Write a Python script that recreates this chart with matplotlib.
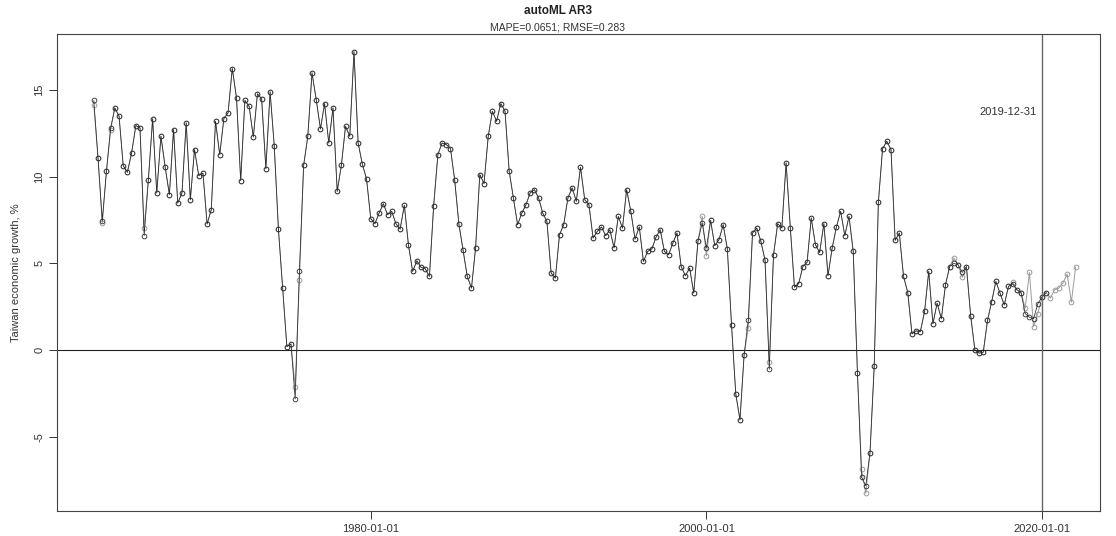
import numpy as np
import pandas as pd
import matplotlib
matplotlib.use("Agg")
import matplotlib.pyplot as plt
import matplotlib.dates as mdates

plt.rcParams['font.family'] = ['Liberation Sans', 'DejaVu Sans']

# quarterly Taiwan GDP growth, %, 1963Q2 .. 2020Q1
actual = [
    14.39, 11.08, 7.45, 10.3, 12.8, 13.96, 13.48, 10.63, 10.25, 11.37,
    12.94, 12.81, 6.6, 9.83, 13.33, 9.06, 12.33, 10.56, 8.96, 12.71,
    8.48, 9.06, 13.1, 8.67, 11.56, 10.06, 10.2, 7.27, 8.1, 13.19,
    11.27, 13.35, 13.67, 16.23, 14.54, 9.77, 14.39, 14.06, 12.29, 14.77,
    14.48, 10.46, 14.89, 11.79, 6.98, 3.6, 0.2, 0.36, -2.81, 4.54,
    10.65, 12.33, 15.98, 14.44, 12.75, 14.21, 11.94, 13.96, 9.15, 10.65,
    12.9, 12.33, 17.2, 11.94, 10.73, 9.87, 7.58, 7.29, 7.9, 8.44,
    7.81, 8.0, 7.29, 6.98, 8.35, 6.04, 4.54, 5.15, 4.77, 4.69,
    4.25, 8.33, 11.27, 11.94, 11.85, 11.62, 9.79, 7.29, 5.79, 4.25,
    3.58, 5.89, 10.12, 9.6, 12.33, 13.77, 13.19, 14.21, 13.77, 10.31,
    8.77, 7.23, 7.9, 8.38, 9.06, 9.25, 8.77, 7.9, 7.42, 4.44,
    4.15, 6.65, 7.23, 8.77, 9.35, 8.58, 10.54, 8.67, 8.38, 6.46,
    6.84, 7.1, 6.6, 6.94, 5.89, 7.71, 7.04, 9.25, 8.0, 6.4,
    7.1, 5.11, 5.69, 5.83, 6.52, 6.94, 5.69, 5.5, 6.17, 6.75,
    4.82, 4.29, 4.73, 3.29, 6.27, 7.33, 5.89, 7.48, 6.02, 6.36,
    7.23, 5.83, 1.46, -2.52, -4.02, -0.27, 1.75, 6.75, 7.04, 6.27,
    5.17, -1.1, 5.5, 7.29, 7.04, 10.79, 7.04, 3.63, 3.83, 4.82,
    5.06, 7.62, 6.08, 5.63, 7.29, 4.29, 5.89, 7.1, 8.0, 6.6,
    7.71, 5.69, -1.33, -7.33, -7.81, -5.91, -0.9, 8.52, 11.6, 12.04,
    11.56, 6.33, 6.75, 4.25, 3.32, 0.94, 1.11, 1.07, 2.23, 4.54,
    1.52, 2.71, 1.81, 3.77, 4.82, 5.0, 4.92, 4.48, 4.82, 1.98,
    0.0, -0.17, -0.12, 1.71, 2.8, 3.96, 3.29, 2.61, 3.67, 3.83,
    3.48, 3.32, 2.1, 1.9, 1.81, 2.67, 3.06, 3.32,
]

# AR3 in-sample fit, then 7 quarters ahead
fitted = [
    14.1, 11.08, 7.33, 10.3, 12.7, 13.96, 13.48, 10.63, 10.25, 11.37,
    12.94, 12.81, 7.04, 9.83, 13.33, 9.06, 12.33, 10.56, 8.96, 12.71,
    8.48, 9.06, 13.1, 8.67, 11.56, 10.06, 10.2, 7.27, 8.1, 13.19,
    11.27, 13.35, 13.67, 16.23, 14.54, 9.77, 14.39, 14.06, 12.29, 14.77,
    14.48, 10.46, 14.89, 11.79, 6.98, 3.6, 0.2, 0.36, -2.1, 4.06,
    10.65, 12.33, 15.98, 14.44, 12.75, 14.21, 11.94, 13.96, 9.15, 10.65,
    12.9, 12.33, 17.2, 11.94, 10.73, 9.87, 7.58, 7.29, 7.9, 8.44,
    7.81, 8.0, 7.29, 6.98, 8.35, 6.04, 4.54, 5.15, 4.77, 4.69,
    4.25, 8.33, 11.27, 11.94, 11.85, 11.62, 9.79, 7.29, 5.79, 4.25,
    3.58, 5.89, 10.12, 9.6, 12.33, 13.77, 13.19, 14.21, 13.77, 10.31,
    8.77, 7.23, 7.9, 8.38, 9.06, 9.25, 8.77, 7.9, 7.42, 4.44,
    4.15, 6.65, 7.23, 8.77, 9.35, 8.58, 10.54, 8.67, 8.38, 6.46,
    6.84, 7.1, 6.6, 6.94, 5.89, 7.71, 7.04, 9.25, 8.0, 6.4,
    7.1, 5.11, 5.69, 5.83, 6.52, 6.94, 5.69, 5.5, 6.17, 6.75,
    4.82, 4.29, 4.73, 3.29, 6.27, 7.71, 5.44, 7.48, 6.02, 6.36,
    7.23, 5.83, 1.46, -2.52, -4.02, -0.27, 1.3, 6.75, 7.04, 6.27,
    5.17, -0.66, 5.5, 7.29, 7.04, 10.79, 7.04, 3.63, 3.83, 4.82,
    5.06, 7.62, 6.08, 5.63, 7.29, 4.29, 5.89, 7.1, 8.0, 6.6,
    7.71, 5.69, -1.33, -6.87, -8.25, -5.91, -0.9, 8.52, 11.6, 12.04,
    11.56, 6.33, 6.75, 4.25, 3.32, 0.94, 1.11, 1.07, 2.23, 4.54,
    1.52, 2.71, 1.81, 3.77, 4.82, 5.31, 4.92, 4.19, 4.82, 1.98,
    0.0, -0.17, -0.12, 1.71, 2.8, 3.96, 3.29, 2.61, 3.67, 3.9,
    3.48, 3.32, 2.42, 4.48, 1.36, 2.11, 3.06, 3.32,
    3.0, 3.48, 3.58, 3.87, 4.39, 2.77, 4.79,
]

start = "1963-06-30"
cutoff = pd.Timestamp("2019-12-31")
dates_act = pd.date_range(start, periods=len(actual), freq="QE")
dates_fit = pd.date_range(start, periods=len(fitted), freq="QE")

fig = plt.figure(figsize=(11.16, 5.36), dpi=100)
ax = fig.add_axes([57 / 1116, 25 / 536, 1043 / 1116, 477 / 536])

# fitted underneath, actual on top
ax.plot(dates_fit, fitted, color="#9a9a9a", lw=0.7, marker="o", ms=3.4,
        mfc="none", mec="#9a9a9a", mew=0.7)
ax.plot(dates_act, actual, color="#2a2a2a", lw=0.55, marker="o", ms=3.4,
        mfc="none", mec="#2a2a2a", mew=0.6)

ax.axhline(0, color="#222222", lw=0.8)
ax.axvline(cutoff, color="#666666", lw=1.0)
ax.text(pd.Timestamp("2017-12-20"), 13.7, "2019-12-31", ha="center",
        va="center", fontsize=8, color="#333333")

ax.set_xlim(pd.Timestamp("1961-04-20"), pd.Timestamp("2023-06-15"))
ax.set_ylim(-9.27, 18.22)

ax.set_xticks([pd.Timestamp("1980-01-01"), pd.Timestamp("2000-01-01"),
               pd.Timestamp("2020-01-01")])
ax.xaxis.set_major_formatter(mdates.DateFormatter("%Y-%m-%d"))
ax.set_yticks([-5, 0, 5, 10, 15])
ax.set_yticklabels(["-5", "0", "5", "10", "15"], rotation=90, va="center")
ax.tick_params(axis="both", labelsize=8, colors="#333333", length=6,
               width=0.7, pad=3)
for s in ax.spines.values():
    s.set_color("#444444")
    s.set_linewidth(0.8)

ax.set_ylabel("Taiwan economic growth, %", fontsize=8, color="#333333",
              labelpad=10)

fig.text(0.5, 1 - 11 / 536, "autoML AR3", ha="center", va="center",
         fontsize=8.5, fontweight="bold", color="#222222")
fig.text(0.5, 1 - 27 / 536, "MAPE=0.0651; RMSE=0.283", ha="center",
         va="center", fontsize=7.5, color="#333333")

fig.savefig("out.png", dpi=100)
